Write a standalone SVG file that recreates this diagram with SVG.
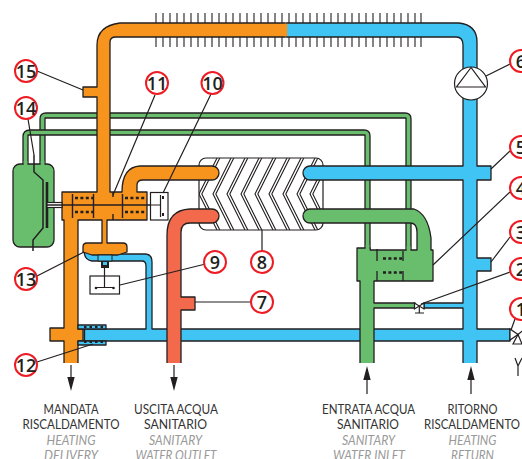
<svg xmlns="http://www.w3.org/2000/svg" xmlns:xlink="http://www.w3.org/1999/xlink" width="522" height="459" viewBox="0 0 522 459">
<style>
.p{stroke:#231F20;stroke-width:1.3;stroke-linejoin:round}
.or{fill:#F7941D}.bl{fill:#40C4F4}.gr{fill:#69BE6E}.re{fill:#F26A4B}
.l{fill:none;stroke:#231F20;stroke-width:1.2}
.d{fill:none;stroke:#231F20;stroke-width:2.4;stroke-dasharray:3 2.4}
.wb{fill:#fff;stroke:#231F20;stroke-width:1.2}
.c{fill:#fff;stroke:#ED1C24;stroke-width:2}
.n{font-family:"Open Sans","Liberation Sans",sans-serif;font-weight:600;font-size:18px;fill:#231F20;text-anchor:middle}
.t{font-family:Lato,"Liberation Sans",sans-serif;font-size:13px;fill:#333;text-anchor:middle}
.i{font-family:Lato,"Liberation Sans",sans-serif;font-size:13px;font-style:italic;fill:#999;text-anchor:middle}
.a{fill:#231F20}
</style>
<defs>
<clipPath id="hxc"><rect x="199" y="158" width="124" height="72" rx="7"/></clipPath>
<path id="chev" d="M18,158 L0,194 L18,230 M20.800,158 L2.800,194 L20.800,230" fill="none" stroke="#231F20" stroke-width="1.1"/>
</defs>

<g id="fins" stroke="#231F20" stroke-width="1.1" fill="none">
<path d="M156,13v10M163,13v10M170,13v10M177,13v10M184,13v10M191,13v10M198,13v10M205,13v10M212,13v10M219,13v10M226,13v10M233,13v10M240,13v10M247,13v10M254,13v10M261,13v10M268,13v10M275,13v10M282,13v10M289,13v10M296,13v10M303,13v10M310,13v10M317,13v10M324,13v10M331,13v10M338,13v10M345,13v10M352,13v10M359,13v10M366,13v10M373,13v10M380,13v10M387,13v10M394,13v10M401,13v10M408,13v10M415,13v10M421,13v10"/>
<path d="M156,37v10M163,37v10M170,37v10M177,37v10M184,37v10M191,37v10M198,37v10M205,37v10M212,37v10M219,37v10M226,37v10M233,37v10M240,37v10M247,37v10M254,37v10M261,37v10M268,37v10M275,37v10M282,37v10M289,37v10M296,37v10M303,37v10M310,37v10M317,37v10M324,37v10M331,37v10M338,37v10M345,37v10M352,37v10M359,37v10M366,37v10M373,37v10M380,37v10M387,37v10M394,37v10M401,37v10M408,37v10M415,37v10M421,37v10"/>
</g>

<g id="n8">
<rect x="199" y="158" width="124" height="72" rx="7" fill="#fff" stroke="#231F20" stroke-width="1.2"/>
<g clip-path="url(#hxc)">
<use xlink:href="#chev" x="199"/><use xlink:href="#chev" x="213"/><use xlink:href="#chev" x="227"/><use xlink:href="#chev" x="241"/><use xlink:href="#chev" x="255"/><use xlink:href="#chev" x="269"/><use xlink:href="#chev" x="283"/><use xlink:href="#chev" x="297"/><use xlink:href="#chev" x="310"/>
</g>
</g>

<g id="connectors">
<path class="p gr" d="M40,166V119Q40,113 46,113H405Q411,113 411,119V253H406V118H45V166Z"/>
<path class="p gr" d="M23,166V137Q23,130 30,130H364Q370,130 370,136V253H365V135H28V166Z"/>
<path class="p bl" d="M477,363V341H510V329H477V271H491V258H477V180H491V166H477V42Q477,25 459,23H286V37H456Q463,37 463,45V166H310A7,7 0 0 0 310,180H463V303H424V308H463V329H152V262Q152,254 145,254H115V250H84Q84,260 92,261H142Q146,261 146,266V329H80V341H463V363"/>
<path class="p or" d="M78,363V341H83V329H78V220H102V243H87Q83,243 83,247V252L92,255H118L127,252V247Q127,243 123,243H107V220H147V192H137V185Q137,180 143,180H212A7,7 0 0 0 212,166H140Q122,167 122,192H110V42Q110,37 116,37H285V23H120Q97,26 97,45V87H83V97H97V192H62V220H64V328H50V341H64V363"/>
<rect x="284" y="23.700" width="3.200" height="12.600" class="or"/>
<path class="p re" d="M181,363V310H195V297H181V232Q181,223 190,223H212A7,7 0 0 0 212,209H190Q167,210 167,235V363"/>
<path class="p gr" d="M374,363V308H415V303H374V281H433V250H431V238Q428,214 414,209H310A7,7 0 0 0 310,223H410Q417,223 417,232V250H370V248H357V281H360V363"/>
<rect x="365.700" y="245" width="3.700" height="8" class="gr"/>
<rect x="406.700" y="246" width="3.700" height="7" class="gr"/>
</g>

<g id="n14">
<rect x="13" y="164" width="41" height="83" rx="7" class="p gr"/>
<rect x="23.700" y="161" width="3.700" height="6" class="gr"/>
<rect x="40.700" y="161" width="3.700" height="6" class="gr"/>
<path class="l" d="M34,155V172L43,180V228L33,240V251" style="stroke-width:1.5"/>
<path d="M47,182V228" stroke="#231F20" stroke-width="2.600"/>
<rect x="47" y="202.500" width="15" height="5" class="wb"/>
</g>

<g id="n11">
<path class="l" d="M47,205H150" style="stroke-width:1.400"/>
<path class="l" d="M72.500,194V218M93.500,194V218M122.500,194V218M113,192V197M113,214V220" style="stroke-width:1.400"/>
<path class="d" d="M75,198H93M75,212H93M125,198H146M125,212H146"/>
</g>

<g id="n10">
<rect x="150.500" y="192.500" width="17.500" height="27.500" class="wb"/>
<path class="l" d="M150,205H160M160.500,195V217"/>
<path d="M163,196v3M163,213v3" stroke="#231F20" stroke-width="2"/>
</g>

<g id="n13">
<path d="M98,255H112V261H98Z" fill="#40C4F4" stroke="#231F20"/>
<path class="a" d="M101,261H109V268H101Z"/>
<path d="M103,262h4v3h-4z" fill="#40C4F4"/>
</g>

<g id="n9">
<rect x="90" y="276" width="29.500" height="18" class="wb"/>
<path class="l" d="M104.500,268V287.500M95,287.500H114"/>
<circle cx="96" cy="288" r="1.300" class="a"/><circle cx="113.500" cy="288" r="1.300" class="a"/>
</g>

<g id="n12">
<rect x="78" y="325" width="28" height="4" class="p bl"/>
<rect x="78" y="341" width="28" height="4" class="p bl"/>
<path class="d" d="M84,327H105M84,342H105" style="stroke-width:2;stroke-dasharray:2.500 3"/>
<path d="M84.500,329V341" stroke="#231F20" stroke-width="1.300"/>
</g>

<g id="n4">
<path class="l" d="M377,249V261M377,271V281M403,251V261M403,271V281" style="stroke-width:1.300"/>
<path class="d" d="M383,258.500H403M383,272.500H403"/>
</g>

<g id="n2">
<path class="wb" d="M414.500,303V309L424,303V309Z"/>
<path class="l" d="M419.300,306V313M415,313H424"/>
</g>

<g id="n1">
<path class="wb" d="M510,329V340L518,334.500Z"/>
<path class="wb" d="M518,334.500L513,344H522Z"/>
<path class="l" d="M518,334.500L526,328M515,358L518,366L522,358M518,366V376"/>
</g>

<g id="n6">
<circle cx="471" cy="83.500" r="16.500" class="wb"/>
<path class="l" d="M471,67.500L456.500,87H485.500Z"/>
</g>

<g id="leaders">
<path class="l" d="M37,71L83,90M155,95L113,195M211,94L163,193M28,119L34,155M510,64L486,76M510,151L491,169M510,192L433,265M510,237L491,262M510,272L421,304M515,319L511,330M37,276L84,252M226,259L120,285M251,302L195,302M37,362L93,344M262,251V230"/>
</g>

<g id="arrows">
<path class="l" d="M71,365V378M174,365V378M367,380V394M471,380V394"/>
<path class="a" d="M67.300,377H74.700L71,391ZM170.300,377H177.700L174,391ZM363.300,380H370.700L367,366ZM467.300,380H474.700L471,366Z"/>
</g>

<g id="labels">
<g><circle class="c" cx="26" cy="71" r="11"/><text class="n" x="26" y="77.500">15</text></g>
<g><circle class="c" cx="26" cy="108" r="11"/><text class="n" x="26" y="114.500">14</text></g>
<g><circle class="c" cx="157" cy="83" r="11"/><text class="n" x="157" y="89.500">11</text></g>
<g><circle class="c" cx="212.500" cy="83" r="11"/><text class="n" x="212.500" y="89.500">10</text></g>
<g><circle class="c" cx="521" cy="61" r="11"/><text class="n" x="521" y="67.500">6</text></g>
<g><circle class="c" cx="521" cy="147" r="11"/><text class="n" x="521" y="153.500">5</text></g>
<g><circle class="c" cx="521" cy="188" r="11"/><text class="n" x="521" y="194.500">4</text></g>
<g><circle class="c" cx="521" cy="232" r="11"/><text class="n" x="521" y="238.500">3</text></g>
<g><circle class="c" cx="521" cy="269" r="11"/><text class="n" x="521" y="275.500">2</text></g>
<g><circle class="c" cx="521" cy="309" r="11"/><text class="n" x="521" y="315.500">1</text></g>
<g><circle class="c" cx="26" cy="279" r="11"/><text class="n" x="26" y="285.500">13</text></g>
<g><circle class="c" cx="215" cy="262" r="11"/><text class="n" x="215" y="268.500">9</text></g>
<g><circle class="c" cx="262" cy="262" r="11"/><text class="n" x="262" y="268.500">8</text></g>
<g><circle class="c" cx="262" cy="302" r="11"/><text class="n" x="262" y="308.500">7</text></g>
<g><circle class="c" cx="26" cy="365" r="11"/><text class="n" x="26" y="371.500">12</text></g>
</g>

<g id="captions">
<text class="t" x="71" y="413.500" textLength="55" lengthAdjust="spacingAndGlyphs">MANDATA</text>
<text class="t" x="71" y="429" textLength="97" lengthAdjust="spacingAndGlyphs">RISCALDAMENTO</text>
<text class="i" x="71" y="444.500" textLength="49" lengthAdjust="spacingAndGlyphs">HEATING</text>
<text class="i" x="71" y="460" textLength="54" lengthAdjust="spacingAndGlyphs">DELIVERY</text>
<text class="t" x="176" y="413.500" textLength="84" lengthAdjust="spacingAndGlyphs">USCITA ACQUA</text>
<text class="t" x="175.500" y="429" textLength="63" lengthAdjust="spacingAndGlyphs">SANITARIO</text>
<text class="i" x="175.500" y="444.500" textLength="53" lengthAdjust="spacingAndGlyphs">SANITARY</text>
<text class="i" x="176" y="460" textLength="81" lengthAdjust="spacingAndGlyphs">WATER OUTLET</text>
<text class="t" x="368.500" y="413.500" textLength="93" lengthAdjust="spacingAndGlyphs">ENTRATA ACQUA</text>
<text class="t" x="368" y="429" textLength="62" lengthAdjust="spacingAndGlyphs">SANITARIO</text>
<text class="i" x="368.500" y="444.500" textLength="53" lengthAdjust="spacingAndGlyphs">SANITARY</text>
<text class="i" x="369" y="460" textLength="72" lengthAdjust="spacingAndGlyphs">WATER INLET</text>
<text class="t" x="472.500" y="413.500" textLength="50" lengthAdjust="spacingAndGlyphs">RITORNO</text>
<text class="t" x="472" y="429" textLength="96" lengthAdjust="spacingAndGlyphs">RISCALDAMENTO</text>
<text class="i" x="472.500" y="444.500" textLength="48" lengthAdjust="spacingAndGlyphs">HEATING</text>
<text class="i" x="472.500" y="460" textLength="43" lengthAdjust="spacingAndGlyphs">RETURN</text>
</g>
</svg>
